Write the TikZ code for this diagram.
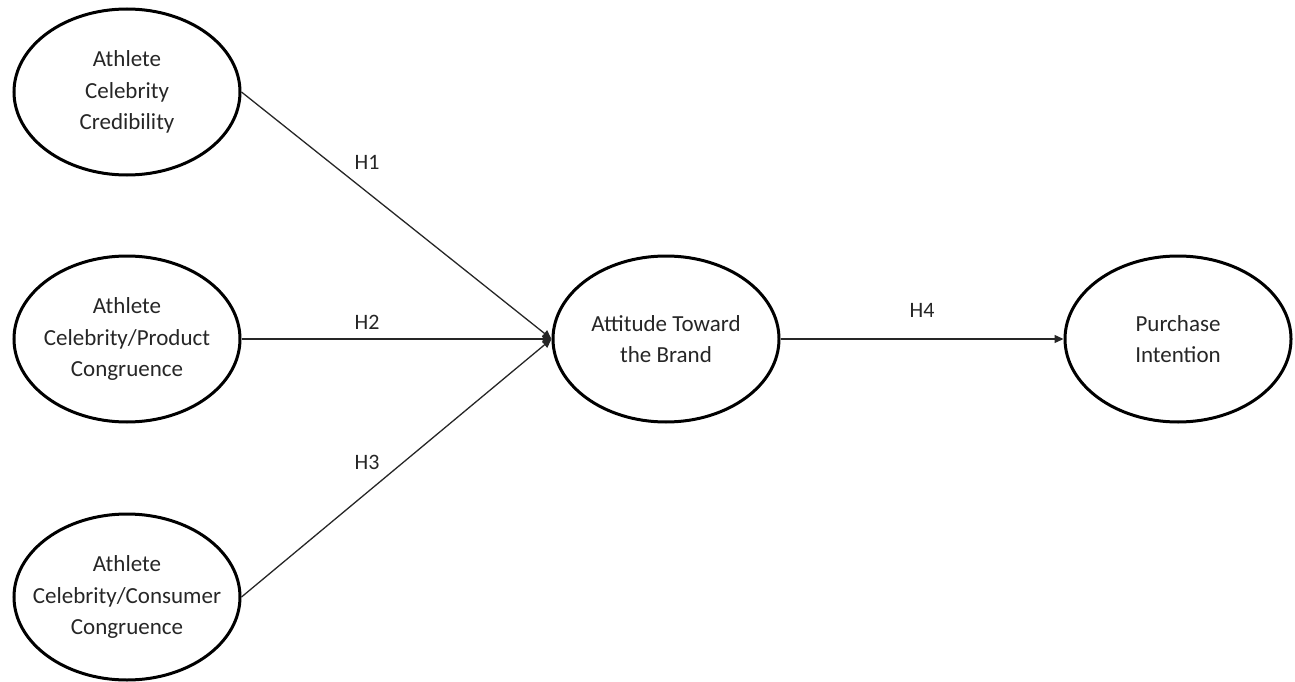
\documentclass[tikz,border=0pt]{standalone}
\usepackage{fontspec}
\setmainfont{Carlito}
\usetikzlibrary{arrows.meta,shapes.geometric}
\begin{document}
\begin{tikzpicture}[x=1pt,y=-1pt,
  construct/.style={draw=black,line width=3pt,ellipse,minimum width=226pt,minimum height=166pt,inner xsep=-30pt,inner ysep=0pt,align=center,font=\fontsize{23}{31.5}\selectfont,text=black!85},
  path/.style={draw=black!85,line width=1.3pt,-{Triangle[length=9pt,width=8pt]}},
  hlab/.style={font=\fontsize{22}{25}\selectfont,text=black!85}]
\useasboundingbox (0,0) rectangle (1295,682);
\node[construct] (acc) at (127,92) {Athlete\\Celebrity\\Credibility};
\node[construct] (acp) at (127,339) {Athlete\\Celebrity/Product\\Congruence};
\node[construct] (acn) at (127,597) {Athlete\\Celebrity/Consumer\\Congruence};
\node[construct] (atb) at (666,339) {Attitude Toward\\the Brand};
\node[construct] (pi) at (1178,339) {Purchase\\Intention};
\draw[path] (acc.east) -- (atb.west);
\draw[path] (acp.east) -- (atb.west);
\draw[path] (acn.east) -- (atb.west);
\draw[path] (atb.east) -- (pi.west);
\node[hlab] (h1) at (367,162) {H1};
\node[hlab] (h2) at (367,322) {H2};
\node[hlab] (h3) at (367,462) {H3};
\node[hlab] (h4) at (922,310) {H4};
\end{tikzpicture}
\end{document}
